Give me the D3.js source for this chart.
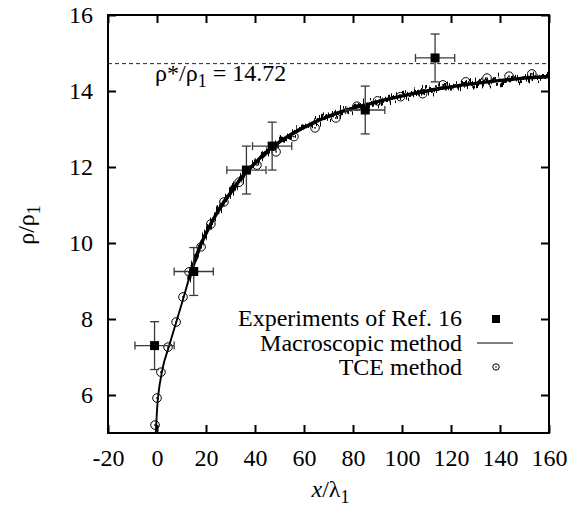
<!DOCTYPE html>
<html>
<head>
<meta charset="utf-8">
<script src="https://cdn.jsdelivr.net/npm/d3@7"></script>
<style>
  body { margin: 0; background: #fff; }
  svg text { font-family: "Liberation Serif", "DejaVu Serif", serif; fill: #000; }
</style>
</head>
<body>
<div id="chart"></div>
<script>
// experiments of Ref. 16 (filled squares with error bars)
var expX = [-1, 15, 36.5, 47, 85, 113.5];
var expY = [7.3, 9.25, 11.92, 12.55, 13.5, 14.87];
var expXErr = [8, 8, 8, 8, 8, 8];
var expYErr = [0.63, 0.63, 0.63, 0.63, 0.63, 0.63];

// macroscopic method (line)
var macroX = [-0.5, 0, 2, 5, 8, 11, 13, 15, 17, 20, 25, 30, 35, 40, 45, 50, 55, 60, 65, 70,
  75, 80, 85, 90, 95, 100, 105, 110, 115, 120, 125, 130, 135, 140, 145, 150, 155, 160];
var macroY = [5.0, 5.6, 6.6, 7.3, 7.95, 8.6, 9.05, 9.45, 9.82, 10.25, 10.85, 11.32, 11.76, 12.1, 12.42, 12.66, 12.87, 13.04, 13.2, 13.33,
  13.45, 13.55, 13.63, 13.72, 13.8, 13.87, 13.94, 14.0, 14.06, 14.11, 14.16, 14.2, 14.24, 14.28, 14.31, 14.34, 14.36, 14.38];

// TCE method (open circles)
var tceX = [-0.8, 0, 1.6, 4.5, 7.8, 10.6, 13.1, 18, 22, 27.3, 33.5, 40.8, 48.6, 55.9, 64.5, 73,
  81.6, 90, 99.4, 108.4, 116.7, 126, 134.7, 143.7, 153];
var tceY = [5.21, 5.92, 6.6, 7.26, 7.92, 8.58, 9.24, 9.9, 10.5, 11.08, 11.6, 12.05, 12.4, 12.8, 13.03, 13.29,
  13.6, 13.74, 13.85, 13.93, 14.16, 14.24, 14.34, 14.39, 14.45];

var rhoStar = 14.72;
var xTicks = [-20, 0, 20, 40, 60, 80, 100, 120, 140, 160];
var yTicks = [6, 8, 10, 12, 14, 16];
var legendLabels = ["Experiments of Ref. 16", "Macroscopic method", "TCE method"];

var W = 574, H = 508;
var pLeft = 108, pRight = 549, pTop = 15, pBottom = 433;
var serif = "Liberation Serif";
var fs = "24px", fsSub = "18px";

var svg = d3.select("#chart").append("svg")
  .attr("width", W)
  .attr("height", H);

var x = d3.scaleLinear().domain([-20, 160]).range([pLeft, pRight]);
var y = d3.scaleLinear().domain([5, 16]).range([pBottom, pTop]);

// jagged look of the macroscopic curve (vertical-only displacement)
var defs = svg.append("defs");
var filt = defs.append("filter").attr("id", "jag")
  .attr("filterUnits", "userSpaceOnUse")
  .attr("x", 0).attr("y", 0).attr("width", W).attr("height", H);
filt.append("feTurbulence")
  .attr("type", "fractalNoise")
  .attr("baseFrequency", "0.6 0.04")
  .attr("numOctaves", 2)
  .attr("seed", 7)
  .attr("result", "noise");
filt.append("feColorMatrix")
  .attr("in", "noise")
  .attr("type", "matrix")
  .attr("values", "0 0 0 0 0.5  0 1 0 0 0  0 0 0 0 0  0 0 0 0 1")
  .attr("result", "noiseY");
filt.append("feDisplacementMap")
  .attr("in", "SourceGraphic")
  .attr("in2", "noiseY")
  .attr("scale", 20)
  .attr("xChannelSelector", "R")
  .attr("yChannelSelector", "G");

var clip = defs.append("clipPath").attr("id", "plotclip");
clip.append("rect").attr("x", pLeft).attr("y", pTop).attr("width", pRight - pLeft).attr("height", pBottom - pTop);

var fmt = function(d) { return String(d); };   // plain hyphen for negatives

// axes with inward ticks, mirrored on top and right
svg.append("g")
  .attr("transform", `translate(0,${pBottom})`)
  .call(d3.axisBottom(x).tickValues(xTicks).tickSize(-8).tickSizeOuter(0).tickPadding(16).tickFormat(fmt))
  .call(g => g.select(".domain").remove());
svg.append("g")
  .attr("transform", `translate(0,${pTop})`)
  .call(d3.axisTop(x).tickValues(xTicks).tickSize(-8).tickSizeOuter(0).tickFormat(""))
  .call(g => g.select(".domain").remove());
svg.append("g")
  .attr("transform", `translate(${pLeft},0)`)
  .call(d3.axisLeft(y).tickValues(yTicks).tickSize(-8).tickSizeOuter(0).tickPadding(15).tickFormat(fmt))
  .call(g => g.select(".domain").remove());
svg.append("g")
  .attr("transform", `translate(${pRight},0)`)
  .call(d3.axisRight(y).tickValues(yTicks).tickSize(-8).tickSizeOuter(0).tickFormat(""))
  .call(g => g.select(".domain").remove());

svg.selectAll(".tick line").attr("stroke", "#000").attr("stroke-width", 2);
svg.selectAll(".tick text")
  .attr("font-family", serif)
  .attr("font-size", fs)
  .attr("fill", "#000");

// dashed reference line
svg.append("line")
  .attr("x1", pLeft).attr("x2", pRight)
  .attr("y1", y(rhoStar)).attr("y2", y(rhoStar))
  .attr("stroke", "#222").attr("stroke-width", 1)
  .attr("stroke-dasharray", "4,3");

var ann = svg.append("text")
  .attr("x", 155).attr("y", 81)
  .attr("font-family", serif)
  .attr("font-size", fs);
ann.append("tspan").text("ρ*/ρ");
ann.append("tspan").attr("dy", 6).attr("font-size", fsSub).text("1");
ann.append("tspan").attr("dy", -6).text(" = 14.72");

var plot = svg.append("g").attr("clip-path", "url(#plotclip)");

// macroscopic line: smooth core plus a jagged band on the flatter part
var line = d3.line()
  .x(function(i) { return x(macroX[i]); })
  .y(function(i) { return y(macroY[i]); })
  .curve(d3.curveMonotoneX);
var allIdx = d3.range(macroX.length);
var flatIdx = allIdx.filter(function(i) { return macroX[i] >= 13; });

plot.append("path")
  .datum(flatIdx)
  .attr("d", line)
  .attr("fill", "none")
  .attr("stroke", "#000")
  .attr("stroke-width", 3.6)
  .attr("filter", "url(#jag)");
plot.append("path")
  .datum(allIdx)
  .attr("d", line)
  .attr("fill", "none")
  .attr("stroke", "#000")
  .attr("stroke-width", 1.9);
plot.append("path")
  .datum(flatIdx)
  .attr("d", line)
  .attr("fill", "none")
  .attr("stroke", "#000")
  .attr("stroke-width", 3.4);

// TCE circles
var tce = plot.selectAll("g.tce")
  .data(tceX)
  .enter()
  .append("g")
  .attr("class", "tce")
  .attr("transform", function(d, i) { return `translate(${x(d)},${y(tceY[i])})`; });
tce.append("circle").attr("r", 4.3).attr("fill", "none").attr("stroke", "#000").attr("stroke-width", 1);
tce.append("circle").attr("r", 0.9).attr("fill", "#000");

// experiments with error bars
var ex = svg.selectAll("g.exp")
  .data(expX)
  .enter()
  .append("g")
  .attr("class", "exp");
ex.each(function(d, i) {
  var g = d3.select(this);
  var cx = x(d), cy = y(expY[i]);
  var x0 = x(d - expXErr[i]), x1 = x(d + expXErr[i]);
  var y0 = y(expY[i] - expYErr[i]), y1 = y(expY[i] + expYErr[i]);
  var st = function(s) { return s.attr("stroke", "#3a3a3a").attr("stroke-width", 1.3); };
  g.append("line").attr("x1", x0).attr("x2", x1).attr("y1", cy).attr("y2", cy).call(st);
  g.append("line").attr("x1", cx).attr("x2", cx).attr("y1", y0).attr("y2", y1).call(st);
  g.append("line").attr("x1", x0).attr("x2", x0).attr("y1", cy - 4).attr("y2", cy + 4).call(st);
  g.append("line").attr("x1", x1).attr("x2", x1).attr("y1", cy - 4).attr("y2", cy + 4).call(st);
  g.append("line").attr("x1", cx - 4.5).attr("x2", cx + 4.5).attr("y1", y0).attr("y2", y0).call(st);
  g.append("line").attr("x1", cx - 4.5).attr("x2", cx + 4.5).attr("y1", y1).attr("y2", y1).call(st);
  g.append("rect").attr("x", cx - 4.5).attr("y", cy - 4.5).attr("width", 9).attr("height", 9).attr("fill", "#000");
});

// frame
svg.append("rect")
  .attr("x", pLeft).attr("y", pTop)
  .attr("width", pRight - pLeft).attr("height", pBottom - pTop)
  .attr("fill", "none").attr("stroke", "#000").attr("stroke-width", 2);

// legend
var lg = svg.append("g");
legendLabels.forEach(function(t, i) {
  var ly = 319 + i * 24.5;
  lg.append("text")
    .attr("x", 462).attr("y", ly + 7)
    .attr("text-anchor", "end")
    .attr("font-family", serif)
    .attr("font-size", fs)
    .text(t);
});
lg.append("rect").attr("x", 492).attr("y", 315).attr("width", 8).attr("height", 8).attr("fill", "#000");
lg.append("line").attr("x1", 477).attr("x2", 513).attr("y1", 343).attr("y2", 343).attr("stroke", "#000").attr("stroke-width", 1.2);
lg.append("circle").attr("cx", 496).attr("cy", 367).attr("r", 3.2).attr("fill", "none").attr("stroke", "#000").attr("stroke-width", 1);
lg.append("circle").attr("cx", 496).attr("cy", 367).attr("r", 0.8).attr("fill", "#000");

// axis titles
var xt = svg.append("text")
  .attr("x", (pLeft + pRight) / 2 + 2).attr("y", 497)
  .attr("text-anchor", "middle")
  .attr("font-family", serif)
  .attr("font-size", fs);
xt.append("tspan").attr("font-style", "italic").text("x");
xt.append("tspan").text("/λ");
xt.append("tspan").attr("dy", 6).attr("font-size", fsSub).text("1");

var yt = svg.append("text")
  .attr("transform", "translate(34,225) rotate(-90)")
  .attr("text-anchor", "middle")
  .attr("font-family", serif)
  .attr("font-size", fs);
yt.append("tspan").text("ρ/ρ");
yt.append("tspan").attr("dy", 6).attr("font-size", fsSub).text("1");
</script>
</body>
</html>
